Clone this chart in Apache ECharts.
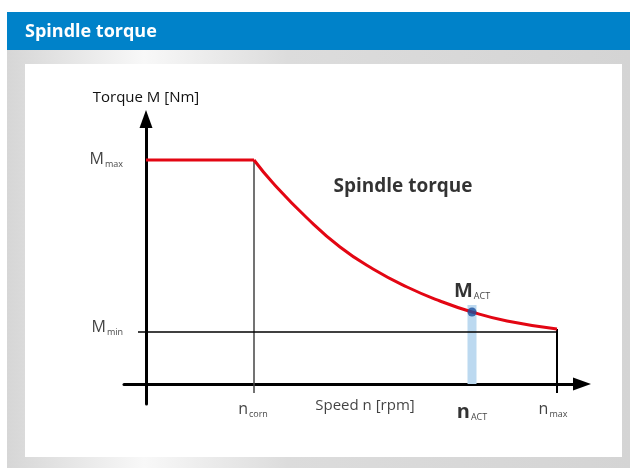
<!DOCTYPE html>
<html><head><meta charset="utf-8">
<script src="https://cdn.jsdelivr.net/npm/echarts@6/dist/echarts.min.js"></script>
<style>html,body{margin:0;padding:0;background:#fff}#c{width:630px;height:469px}</style>
</head><body><div id="c"></div>
<script>
// Speed (n, relative units) and torque (M, relative units)
const flatSpeed = [0, 108];
const flatTorque = [224, 224];
const curveSpeed = [108, 127, 161, 194, 227, 261, 294, 326, 361, 411];
const curveTorque = [224, 201, 166, 137, 115, 97, 83, 72, 63, 55];
const nCorn = 108, nAct = 326, nMax = 411;
const mMax = 224, mMin = 52, mAct = 72, mActBarTop = 79, mEnd = 55;
const title = 'Spindle torque';
const yName = 'Torque M [Nm]';
const xName = 'Speed n [rpm]';

const F = '"Open Sans", sans-serif';
const sub = { fontSize: 9, fontFamily: F, color: '#111', padding: [10, 0, 0, 1] };
const labels = [
  { value: [-23, mMax + 1], f: '{m|M}{s|max}', align: 'right' },
  { value: [-23, mMin + 5], f: '{m|M}{s|min}', align: 'right' },
  { value: [nCorn - 1, -25], f: '{m|n}{s|corn}', align: 'center' },
  { value: [nMax - 4, -25], f: '{m|n}{s|max}', align: 'center' },
  { value: [219, -22], f: '{t|' + xName + '}', align: 'center' },
  { value: [nAct, -28], f: '{b|n}{bs|ACT}', align: 'center' },
  { value: [nAct, 93], f: '{b|M}{bs|ACT}', align: 'center' },
  { value: [257, 197], f: '{h|' + title + '}', align: 'center' }
];

const chart = echarts.init(document.getElementById('c'));
const axisCommon = {
  type: 'value',
  splitLine: { show: false }, axisTick: { show: false }, axisLabel: { show: false },
  axisLine: { show: true, onZero: true, symbol: ['none', 'triangle'], symbolSize: [13, 18],
    lineStyle: { color: '#000', width: 3 } }
};
chart.setOption({
  animation: false,
  graphic: [
    { type: 'rect', z: -10, shape: { x: 7, y: 12, width: 623, height: 38 }, style: { fill: '#0082c9' } },
    { type: 'rect', z: -10, shape: { x: 7, y: 50, width: 623, height: 418 },
      style: { fill: new echarts.graphic.LinearGradient(0, 0, 1, 0, [
        { offset: 0, color: '#d6d6d6' }, { offset: 0.22, color: '#f8f8f8' },
        { offset: 0.45, color: '#dcdcdc' }, { offset: 1, color: '#d4d4d4' }]) } },
    { type: 'rect', z: -9, shape: { x: 25, y: 64, width: 597, height: 393 }, style: { fill: '#fff' } },
    { type: 'text', z: -8, left: 25, top: 23, style: { text: title, fill: '#fff',
      font: 'bold 18px "Open Sans", sans-serif' } }
  ],
  grid: { left: 124, right: 48, top: 119, bottom: 65 },
  xAxis: Object.assign({}, axisCommon, { min: -22, max: 436 }),
  yAxis: Object.assign({}, axisCommon, { min: -20, max: 265, name: yName, nameLocation: 'end', nameGap: 14,
    nameTextStyle: { fontSize: 15, fontFamily: F, color: '#111', align: 'center' } }),
  series: [
    { type: 'line', symbol: 'none', z: 1, data: [[nAct, 0], [nAct, mActBarTop]],
      lineStyle: { color: '#bcd9f0', width: 9, cap: 'butt' } },
    { type: 'line', symbol: 'none', z: 2, data: [[nCorn, mMax], [nCorn, -9]],
      lineStyle: { color: '#444', width: 1.5 } },
    { type: 'line', symbol: 'none', z: 2, data: [[-8, mMin], [nMax, mMin]],
      lineStyle: { color: '#000', width: 1.5 } },
    { type: 'line', symbol: 'none', z: 2, data: [[nMax, mEnd], [nMax, -9]],
      lineStyle: { color: '#000', width: 2 } },
    { type: 'line', symbol: 'none', z: 3, data: flatSpeed.map((x, i) => [x, flatTorque[i]]),
      lineStyle: { color: '#e30613', width: 3 } },
    { type: 'line', symbol: 'none', z: 3, smooth: 0.5,
      data: curveSpeed.map((x, i) => [x, curveTorque[i]]),
      lineStyle: { color: '#e30613', width: 3 } },
    { type: 'scatter', z: 4, symbolSize: 9, data: [[nAct, mAct]], itemStyle: { color: '#1a4f9c' } },
    { type: 'scatter', z: 5, symbolSize: 0, silent: true, clip: false,
      data: labels.map(l => ({ value: l.value, label: { show: true, position: 'inside',
        align: l.align, verticalAlign: 'middle', formatter: l.f } })),
      label: { rich: {
        m: { fontSize: 16, fontFamily: F, color: '#111' },
        s: sub,
        t: { fontSize: 15, fontFamily: F, color: '#111' },
        b: { fontSize: 20, fontWeight: 'bold', fontFamily: F, color: '#000' },
        bs: { fontSize: 9, fontFamily: F, color: '#111', padding: [11, 0, 0, 1] },
        h: { fontSize: 19, fontWeight: 'bold', fontFamily: F, color: '#000' }
      } } }
  ]
});
</script></body></html>
